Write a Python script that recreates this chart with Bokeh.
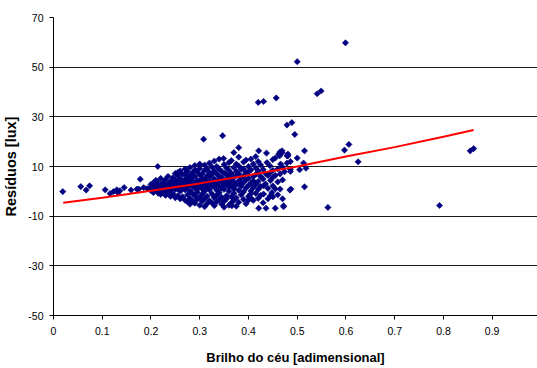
from bokeh.plotting import figure
from bokeh.models import FixedTicker, Range1d
from bokeh.embed import file_html
from bokeh.resources import INLINE

# ---- data ----
x_ticks = [0, 0.1, 0.2, 0.3, 0.4, 0.5, 0.6, 0.7, 0.8, 0.9]
x_tick_labels = ["0", "0.1", "0.2", "0.3", "0.4", "0.5", "0.6", "0.7", "0.8", "0.9"]
y_ticks = [-50, -30, -10, 10, 30, 50, 70]
y_tick_labels = ["-50", "-30", "-10", "10", "30", "50", "70"]

# trend line
tend_x = [0.02, 0.1, 0.2, 0.3, 0.4, 0.5, 0.6, 0.7, 0.8, 0.862]
tend_y = [-4.6, -2.6, 0.2, 3.2, 6.5, 10.0, 14.0, 17.8, 22.0, 24.7]

# scatter points: (sky brightness, residual)
pontos = [
    (0.019, -0.1), (0.056, 1.9), (0.067, 0.5), (0.074, 2.2), (0.106, 0.6),
    (0.116, -0.9), (0.123, -0.1), (0.130, 0.6), (0.136, 0.2), (0.132, -0.6),
    (0.145, 1.5), (0.159, 0.5), (0.171, 0.9), (0.175, 0.9), (0.178, 4.9),
    (0.185, 1.5), (0.192, 1.1), (0.199, 1.5), (0.209, 1.8), (0.214, 10.0),
    (0.212, 4.0),
    (0.200, 1.2), (0.200, 2.8), (0.200, 0.3),
    (0.205, 3.5), (0.205, 1.0), (0.205, -0.5),
    (0.210, 2.0), (0.210, 0.6), (0.210, 4.4),
    (0.215, 1.6), (0.215, -0.8), (0.215, 3.0),
    (0.220, 2.5), (0.220, 0.0), (0.220, 5.2), (0.220, -1.2),
    (0.225, 1.2), (0.225, 3.6), (0.225, -0.3),
    (0.230, 2.2), (0.230, 4.8), (0.230, 0.5), (0.230, -1.6),
    (0.235, 3.0), (0.235, 1.4), (0.235, 6.0), (0.235, -0.8),
    (0.240, 0.2), (0.240, 2.6), (0.240, 4.0), (0.240, -2.0),
    (0.245, 5.5), (0.245, 1.8), (0.245, 3.2), (0.245, -1.0),
    (0.250, 2.4), (0.250, 7.2), (0.250, 0.8), (0.250, -2.6), (0.250, 4.6),
    (0.255, 6.4), (0.255, 1.0), (0.255, 3.8), (0.255, -1.8), (0.255, 7.6),
    (0.260, 2.8), (0.260, 5.0), (0.260, 0.0), (0.260, -3.0), (0.260, 8.2),
    (0.265, 4.2), (0.265, 1.6), (0.265, 6.8), (0.265, -2.2), (0.265, 3.0),
    (0.270, 7.0), (0.270, 0.6), (0.270, 2.4), (0.270, 4.8), (0.270, -3.6), (0.270, 9.0),
    (0.275, 1.8), (0.275, 5.8), (0.275, 3.6), (0.275, -1.4), (0.275, 8.0), (0.275, -4.2),
    (0.280, 3.2), (0.280, 6.2), (0.280, 0.2), (0.280, -2.8), (0.280, 9.6), (0.280, 4.6), (0.280, -5.2),
    (0.285, 2.0), (0.285, 7.4), (0.285, 4.0), (0.285, -0.8), (0.285, -3.8), (0.285, 5.6),
    (0.290, 8.6), (0.290, 1.2), (0.290, 3.4), (0.290, -4.8), (0.290, 6.0), (0.290, -1.8), (0.290, 10.4),
    (0.295, 4.4), (0.295, 2.6), (0.295, 7.8), (0.295, -0.4), (0.295, -3.2), (0.295, 0.8),
    (0.300, 6.6), (0.300, 2.0), (0.300, 9.2), (0.300, -2.4), (0.300, 4.2), (0.300, -5.6), (0.300, 11.0),
    (0.305, 1.0), (0.305, 5.2), (0.305, 3.0), (0.305, -1.2), (0.305, 7.0), (0.305, -4.0),
    (0.308, 21.0),
    (0.310, 8.4), (0.310, 2.4), (0.310, 4.8), (0.310, -3.0), (0.310, 0.0), (0.310, 10.6), (0.310, -6.2),
    (0.315, 6.2), (0.315, 1.4), (0.315, 3.8), (0.315, -2.0), (0.315, 9.0), (0.315, -5.0),
    (0.320, 4.0), (0.320, 7.6), (0.320, 0.6), (0.320, -3.8), (0.320, 11.4), (0.320, 2.8), (0.320, 5.8),
    (0.325, 2.2), (0.325, 9.8), (0.325, -1.0), (0.325, 6.8), (0.325, -4.6), (0.325, 3.6),
    (0.330, 5.0), (0.330, 1.8), (0.330, 8.2), (0.330, -2.6), (0.330, -5.8), (0.330, 12.2), (0.330, 4.4),
    (0.335, 3.2), (0.335, 7.0), (0.335, 0.4), (0.335, -1.6), (0.335, 10.0), (0.335, -4.2),
    (0.340, 6.0), (0.340, 2.0), (0.340, 4.8), (0.340, 9.0), (0.340, -3.4), (0.340, -0.6), (0.340, 13.0),
    (0.345, 1.2), (0.345, 8.0), (0.345, 3.8), (0.345, -2.4), (0.345, 5.6), (0.345, -5.2),
    (0.347, 22.4), (0.349, 13.2),
    (0.350, 4.6), (0.350, 10.8), (0.350, 0.8), (0.350, 7.4), (0.350, -4.0), (0.350, 2.6), (0.350, -6.4),
    (0.355, 6.6), (0.355, 2.8), (0.355, 9.4), (0.355, -1.8), (0.355, 4.0), (0.355, -3.0),
    (0.360, 3.4), (0.360, 11.6), (0.360, 0.0), (0.360, 5.8), (0.360, -5.6), (0.360, 8.4), (0.360, 1.6),
    (0.365, 7.2), (0.365, 4.8), (0.365, -2.2), (0.365, 12.4), (0.365, 2.2), (0.365, -4.6),
    (0.366, -5.8),
    (0.370, 15.6), (0.370, 5.6), (0.370, 1.0), (0.370, 9.6), (0.370, -0.8), (0.370, 3.8), (0.370, -3.6),
    (0.375, 8.0), (0.375, 2.6), (0.375, 11.0), (0.375, -2.6), (0.375, 6.4), (0.375, -6.0),
    (0.380, 17.6), (0.380, 4.2), (0.380, 0.4), (0.380, 7.0), (0.380, 10.2), (0.380, -4.4), (0.380, 13.8),
    (0.385, 2.0), (0.385, 5.4), (0.385, -1.4), (0.385, 8.8), (0.385, 3.0),
    (0.390, 6.2), (0.390, 11.8), (0.390, -0.2), (0.390, 3.6), (0.390, -3.2), (0.390, 9.0),
    (0.395, 1.4), (0.395, 7.6), (0.395, 4.6), (0.395, -5.0), (0.395, 12.6),
    (0.400, 5.2), (0.400, 2.4), (0.400, 10.0), (0.400, -2.0), (0.400, 7.8), (0.400, -3.5),
    (0.405, 3.2), (0.405, 8.6), (0.405, 0.2), (0.405, 13.0), (0.405, -1.0),
    (0.407, -3.1),
    (0.410, 6.0), (0.410, 1.6), (0.410, 11.0), (0.410, -3.6), (0.410, 4.2),
    (0.415, 9.4), (0.415, 2.8), (0.415, -0.8), (0.415, 6.8), (0.415, 14.0),
    (0.420, 35.8), (0.420, 4.0), (0.420, 0.8), (0.420, 8.2), (0.421, -6.8), (0.420, 12.0), (0.420, -2.8),
    (0.421, 16.3),
    (0.425, 2.0), (0.425, 6.0), (0.425, 10.6), (0.425, -1.6),
    (0.431, 36.2), (0.430, 5.0), (0.431, 2.2), (0.430, 8.8), (0.431, -1.1), (0.430, -4.6),
    (0.436, -6.8), (0.437, 15.4), (0.438, 11.6), (0.435, 7.2), (0.435, 3.0),
    (0.440, 6.4), (0.440, 1.2), (0.444, 10.3), (0.440, -3.0),
    (0.445, 4.4), (0.448, -0.5), (0.445, -1.8), (0.445, 7.6),
    (0.450, 2.2), (0.450, 8.4), (0.450, -2.2), (0.450, 5.6), (0.450, 12.8),
    (0.457, 37.6), (0.455, -6.8), (0.455, 6.4), (0.455, 1.0), (0.455, 13.4),
    (0.462, 15.0), (0.460, 3.8), (0.460, 9.0), (0.460, -1.4),
    (0.465, 15.9), (0.465, 0.9), (0.465, 7.0), (0.464, 14.3), (0.466, 11.0),
    (0.469, 16.3), (0.470, 4.6), (0.470, -3.0), (0.470, 9.8),
    (0.472, -5.8), (0.472, -6.2), (0.474, 7.9),
    (0.479, 26.7), (0.489, 27.7), (0.495, 22.9),
    (0.469, 15.6), (0.481, 14.3), (0.479, 14.3), (0.481, 15.0),
    (0.515, 16.3), (0.500, 13.4), (0.479, 11.4), (0.486, 12.0), (0.513, 11.4),
    (0.518, 9.3), (0.505, 8.7), (0.486, 8.0), (0.486, 8.9),
    (0.485, 0.5), (0.487, 0.9), (0.515, 1.8),
    (0.500, 52.2), (0.541, 39.3), (0.549, 40.4), (0.599, 59.8),
    (0.563, -6.5), (0.597, 16.6), (0.606, 18.9), (0.625, 11.9),
    (0.792, -5.7), (0.855, 16.3), (0.862, 17.2),
]

brilho = [pt[0] for pt in pontos]
residuos = [pt[1] for pt in pontos]

FONT = "Liberation Sans"

p = figure(width=537, height=368, output_backend="svg", toolbar_location=None,
           x_range=Range1d(0, 0.993), y_range=Range1d(-50, 70),
           min_border_left=53, min_border_right=0, min_border_top=17,
           min_border_bottom=53)
p.background_fill_color = "white"
p.border_fill_color = "white"
p.outline_line_color = None

p.xgrid.visible = False
p.ygrid.ticker = FixedTicker(ticks=y_ticks)
p.ygrid.grid_line_color = "#1a1a1a"
p.ygrid.grid_line_width = 1

p.xaxis.ticker = FixedTicker(ticks=x_ticks)
p.xaxis.major_label_overrides = dict(zip(x_ticks, x_tick_labels))
p.yaxis.ticker = FixedTicker(ticks=y_ticks)
p.yaxis.major_label_overrides = dict(zip(y_ticks, y_tick_labels))

for ax in (p.xaxis[0], p.yaxis[0]):
    ax.axis_line_color = "black"
    ax.axis_line_width = 1
    ax.major_tick_line_color = "black"
    ax.major_tick_in = 0
    ax.major_tick_out = 4
    ax.minor_tick_line_color = None
    ax.major_label_text_font = FONT
    ax.major_label_text_font_size = "10.5px"
    ax.major_label_text_color = "black"
    ax.axis_label_text_font = FONT
    ax.axis_label_text_font_style = "bold"
    ax.axis_label_text_color = "black"

p.xaxis.axis_label = "Brilho do céu [adimensional]"
p.yaxis.axis_label = "Resíduos [lux]"
p.xaxis.axis_label_text_font_size = "13px"
p.yaxis.axis_label_text_font_size = "14.5px"
p.xaxis.major_label_standoff = 7
p.xaxis.axis_label_standoff = 12
p.yaxis.major_label_standoff = 6
p.yaxis.axis_label_standoff = 6

p.scatter(brilho, residuos, marker="square", angle=0.785398, size=4.4,
          fill_color="#000080", line_color="#000080", line_width=0.6)
p.line(tend_x, tend_y, line_color="#ff0000", line_width=2)

open("out.html", "w").write(file_html(p, INLINE))
